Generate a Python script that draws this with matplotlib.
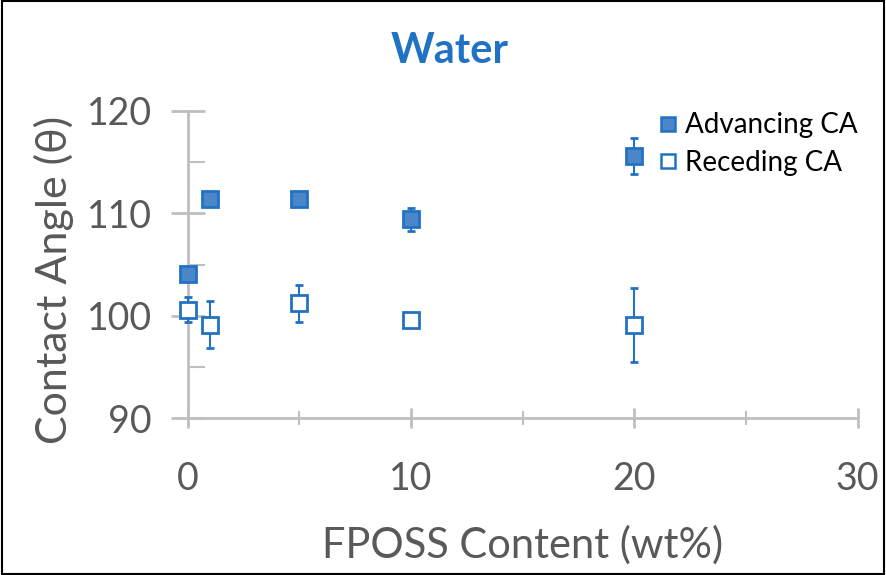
import matplotlib.pyplot as plt
from matplotlib.lines import Line2D
from matplotlib.ticker import MultipleLocator

plt.rcParams["font.family"] = ["Lato", "DejaVu Sans"]

fposs = [0, 1, 5, 10, 20]
advancing = [104.1, 111.4, 111.4, 109.4, 115.6]
advancing_err = [0.5, 0.5, 0.3, 1.1, 1.8]
receding = [100.6, 99.1, 101.2, 99.6, 99.1]
receding_err = [1.2, 2.3, 1.8, 0.5, 3.6]

blue = "#2272c3"
fill = "#4a86c8"
gray = "#bfbfbf"
text = "#595959"

fig = plt.figure(figsize=(8.86, 5.75), dpi=100)
ax = fig.add_axes([0.212, 0.273, 0.756, 0.534])

ax.errorbar(fposs, advancing, yerr=advancing_err, fmt="s", ms=11, mfc=fill, mec=blue,
            mew=2, ecolor=blue, elinewidth=1.5, capsize=3, clip_on=False, zorder=3)
ax.errorbar(fposs, receding, yerr=receding_err, fmt="s", ms=11, mfc="white", mec=blue,
            mew=2, ecolor=blue, elinewidth=1.5, capsize=3, clip_on=False, zorder=3)

ax.set_xlim(0, 30)
ax.set_ylim(90, 120)
ax.xaxis.set_major_locator(MultipleLocator(10))
ax.xaxis.set_minor_locator(MultipleLocator(5))
ax.yaxis.set_major_locator(MultipleLocator(10))
ax.yaxis.set_minor_locator(MultipleLocator(5))

for side in ["top", "right"]:
    ax.spines[side].set_visible(False)
for side in ["left", "bottom"]:
    ax.spines[side].set_color(gray)
    ax.spines[side].set_linewidth(2)

ax.tick_params(which="major", direction="inout", length=24, width=2, color=gray,
               labelsize=27, labelcolor=text, pad=14)
ax.tick_params(which="minor", direction="in", length=12, width=1.5, color=gray)
ax.tick_params(axis="x", which="major", length=14, pad=24)
ax.tick_params(axis="x", which="minor", direction="inout", length=10)

ax.set_xlabel("FPOSS Content (wt%)", fontsize=30, color=text, labelpad=20)
ax.set_ylabel("Contact Angle (\u03b8)", fontsize=31, color=text)
ax.yaxis.set_label_coords(-0.17, 0.45)
fig.text(0.508, 0.912, "Water", fontsize=30, fontweight="bold", color=blue,
         ha="center", va="center")

handles = [
    Line2D([], [], ls="none", marker="s", ms=10, mfc=fill, mec=blue, mew=1.8),
    Line2D([], [], ls="none", marker="s", ms=10, mfc="white", mec=blue, mew=1.8),
]
ax.legend(handles, ["Advancing CA", "Receding CA"], loc="upper right",
          bbox_to_anchor=(1.025, 1.05), frameon=False, fontsize=20,
          labelcolor="black", handletextpad=0.0, handlelength=1.2,
          borderaxespad=0.2, labelspacing=0.42)

fig.patches.append(plt.Rectangle((0.002, 0.002), 0.996, 0.996, transform=fig.transFigure,
                                 fill=False, edgecolor="black", linewidth=1.5))

fig.savefig("out.png", dpi=100)
